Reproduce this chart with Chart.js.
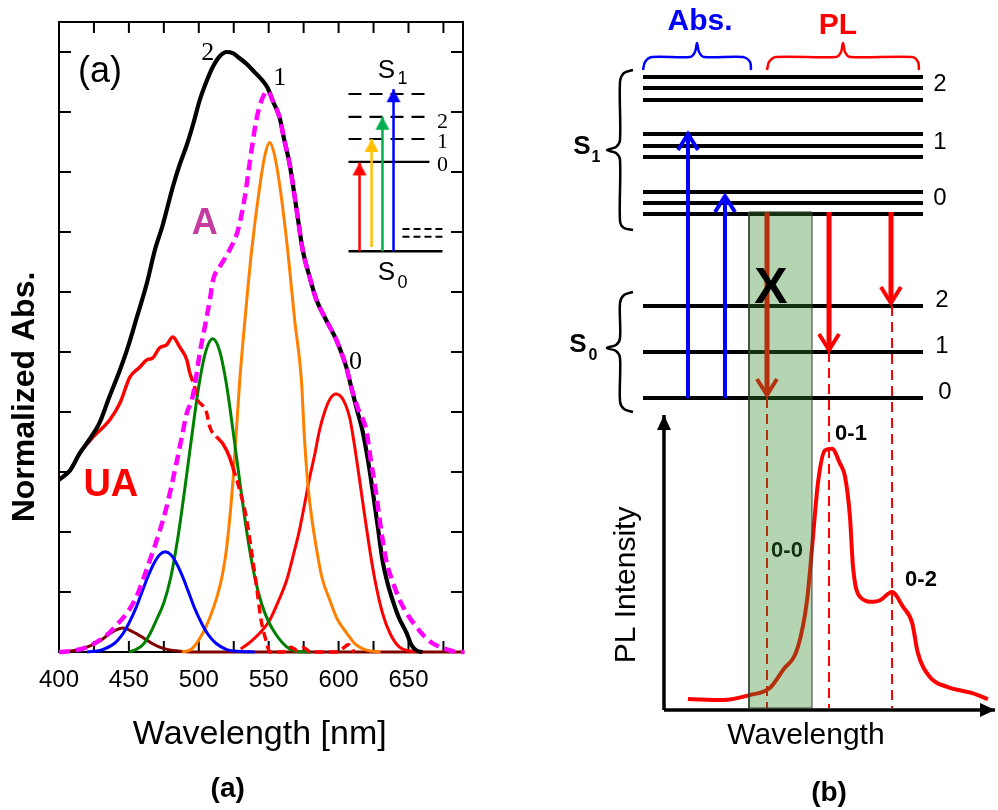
<!DOCTYPE html>
<html>
<head>
<meta charset="utf-8">
<title>Absorption and PL schematic</title>
<script src="https://cdn.jsdelivr.net/npm/chart.js@4.4.0/dist/chart.umd.min.js"></script>
<style>
  html, body { margin: 0; padding: 0; background: #fff; }
  #wrap { position: relative; width: 998px; height: 810px; }
  #chartA { position: absolute; left: 0; top: 0; }
  #chartB { position: absolute; left: 560px; top: 0; }
</style>
</head>
<body>
<div id="wrap">
  <canvas id="chartA" width="560" height="810"></canvas>
  <canvas id="chartB" width="438" height="810"></canvas>
</div>
<script>
// ---------- panel (a): absorption spectra, [wavelength nm, normalized abs] ----------
const xTickLabels = [400, 450, 500, 550, 600, 650];
const xTickMarks = [425, 450, 475, 500, 525, 550, 575, 600, 625, 650, 675];
const yTickMarks = [0.1, 0.2, 0.3, 0.4, 0.5, 0.6, 0.7, 0.8, 0.9, 1.0];

const totalAbs = [[400,0.287],[408,0.303],[415,0.332],[422,0.355],[429,0.382],[436,0.425],[443.6,0.47],
  [449.3,0.508],[455.7,0.558],[462.9,0.615],[468.6,0.67],[474,0.71],[481.4,0.775],[486,0.81],[491.4,0.845],
  [496,0.88],[500.7,0.92],[505,0.948],[510,0.975],[515,0.993],[520,1.0],[524.3,0.998],[529,0.99],
  [534.3,0.98],[540,0.966],[545,0.954],[549.3,0.94],[553,0.918],[557.9,0.89],[561,0.855],[565,0.813],
  [569.8,0.74],[574.5,0.668],[579.3,0.625],[584,0.588],[591.2,0.553],[598.4,0.52],[605.5,0.475],[609,0.442],
  [613,0.405],[617,0.37],[621,0.32],[624.3,0.27],[628,0.21],[631.4,0.153],[635,0.115],[638.6,0.087],
  [643,0.058],[648.6,0.032],[652,0.012],[656,0.002],[660,0]];

const aggregateA = [[400,0],[410,0.002],[420,0.008],[428,0.018],[436,0.032],[442,0.047],[448.6,0.065],
  [455,0.09],[460,0.12],[465,0.153],[470,0.187],[477,0.242],[484,0.315],[488,0.36],[491.4,0.398],[495,0.42],
  [497,0.442],[500.7,0.498],[504.3,0.542],[507.9,0.587],[510.2,0.62],[515,0.642],[522,0.67],[528,0.703],
  [532.9,0.758],[536.4,0.815],[541.2,0.887],[545,0.92],[549.3,0.935],[553,0.918],[557.9,0.89],[561,0.855],
  [565,0.813],[569.8,0.74],[574.5,0.668],[579.3,0.625],[584,0.588],[591.2,0.553],[598.4,0.52],[605.5,0.475],
  [609,0.442],[614,0.405],[619.8,0.37],[623,0.32],[626.5,0.27],[630,0.21],[634,0.153],[639,0.115],
  [643.6,0.087],[650,0.06],[655.7,0.042],[661,0.027],[667,0.015],[675,0.006],[686,0],[690,0]];

const unaggregatedUA = [[400,0.287],[408,0.303],[415,0.332],[424.3,0.358],[436.4,0.387],[443.6,0.415],
  [450.7,0.458],[457.9,0.475],[462.9,0.487],[467,0.49],[472,0.507],[477,0.512],[481.4,0.525],[486.4,0.508],
  [491.4,0.487],[493.6,0.465],[497,0.442],[499.3,0.42],[503,0.41],[505.7,0.398],[507.9,0.375],[512.9,0.358],
  [517,0.348],[522,0.325],[524.3,0.308],[529.3,0.27],[534.3,0.22],[537.9,0.165],[541.4,0.108],[544.6,0.053],
  [548.6,0.015],[550.7,0],[560,0],[566,0.008],[570,0.003],[575,0.007],[580,0],[598,0],[603,0.006],
  [607,0.012],[611,0]];

const band00 = [[530,0.005],[536,0.015],[543,0.03],[550.7,0.053],[557,0.085],[562.9,0.12],[568,0.165],
  [572,0.203],[576,0.25],[579,0.287],[583,0.33],[586.4,0.37],[590,0.4],[594,0.422],[598,0.43],[602,0.425],
  [605,0.412],[608,0.39],[611,0.35],[615,0.287],[618.5,0.23],[622,0.175],[626,0.12],[631.4,0.065],
  [637,0.03],[643.6,0.008],[650,0.002],[660,0]];

const band01 = [[488,0],[495,0.005],[503,0.032],[508,0.058],[513,0.092],[517,0.13],[520,0.175],[524.5,0.287],
  [529.3,0.453],[533,0.553],[537.6,0.665],[543.6,0.776],[547.5,0.83],[550.7,0.849],[554,0.83],[558,0.776],
  [563.8,0.665],[568.6,0.553],[573.4,0.453],[575.5,0.36],[578,0.28],[581,0.22],[584,0.175],[588,0.125],
  [593.6,0.087],[599,0.055],[605.7,0.032],[612,0.013],[620,0.003],[630,0]];

const band02 = [[450,0],[455,0.004],[460,0.012],[465,0.03],[470,0.055],[475,0.082],[480,0.125],[485,0.19],
  [490,0.272],[495,0.36],[500,0.443],[505,0.501],[510,0.522],[515,0.501],[520,0.443],[525,0.36],[530,0.272],
  [535,0.19],[540,0.125],[545,0.08],[550,0.05],[555,0.03],[560,0.015],[565,0.005],[570,0.001],[580,0]];

const band03 = [[420,0],[430,0.003],[440,0.015],[445,0.028],[450,0.048],[455,0.073],[460,0.104],[464,0.128],
  [468,0.148],[472,0.162],[476,0.167],[480,0.162],[484,0.148],[488,0.128],[492,0.104],[497,0.073],
  [502,0.048],[507,0.028],[512,0.015],[520,0.004],[530,0.001],[540,0]];

const band04 = [[400,0],[410,0.002],[420,0.008],[429,0.018],[436,0.03],[441,0.037],[445.7,0.04],[450,0.037],
  [455,0.031],[460,0.024],[466,0.015],[472,0.008],[478,0.004],[484,0.002],[495,0],[690,0]];

// inset level scheme (drawn in the same nm / abs units)
const insetSpan = [607.1, 665];
const insetVibLevels = [0.93, 0.892, 0.855];
const insetS1Zero = 0.817;
const insetS0 = [0.668, 607.1, 674.3];
const insetS0Vib = [0.705, 0.692];
const insetS0VibSpan = [645.7, 674.3];
const insetArrowX = [615, 623.6, 631.4, 639.3];
const insetArrowFrom = [0.668, 0.675, 0.668, 0.668];
const insetArrowTo = [0.816, 0.855, 0.892, 0.938];
const insetArrowColors = ['#ff0000', '#ffc000', '#00b050', '#0000ff'];

// ---------- panel (b): level diagram + PL spectrum (arbitrary units 0-100) ----------
const levelSpan = [18.95, 82.88];
const s1Levels = [90.49, 89.14, 87.65, 83.46, 81.98, 80.62, 76.30, 74.94, 73.58];
const s0Levels = [62.22, 56.54, 50.86];
const absArrows = [[29.22, 50.86, 83.46], [37.67, 50.86, 75.80]];          // x, from, to
const plArrows = [[47.26, 73.83, 51.23], [61.42, 73.83, 56.79], [75.57, 73.83, 62.59]];
const dropLines = [[47.26, 50.86], [61.42, 56.54], [75.8, 62.22]];          // x, top
const axisBase = 12.35, axisLeft = 23.74, axisRight = 99.32, axisTop = 48.77;
const bandX = [43.15, 57.53], bandY = [12.59, 73.83];

const plSpectrum = [[29.2,13.7],[37.2,13.58],[43.4,14.2],[47.9,15.06],[50.9,17.28],[54.3,20.1],[56.4,25.9],
  [57.5,32.1],[58.9,40.4],[60.5,44.4],[62.1,44.6],[63.9,42.8],[65.1,41.1],[66.2,36.2],[66.9,30],[68.5,26.3],
  [71.5,25.7],[73.1,25.9],[75.8,26.9],[78.3,25.1],[80.4,23.1],[81.7,19.4],[84.5,16.4],[88.4,15.2],
  [94.3,14.4],[97.7,13.7]];

const s1Brace = [[16.67,91.36],[14.61,90.99],[13.70,89.88],[13.70,82.72],[12.79,81.85],[10.73,81.48],
  [12.79,81.11],[13.70,80.25],[13.70,72.72],[14.61,71.85],[16.67,71.6]];
const s0Brace = [[16.67,63.95],[14.61,63.58],[13.70,62.59],[13.70,58.27],[12.79,57.41],[10.73,57.04],
  [12.79,56.67],[13.70,55.80],[13.70,50.49],[14.61,49.51],[16.67,49.14]];
const absBrace = [[18.95,91.36],[19.41,92.35],[21.0,92.96],[29.68,92.96],[30.82,93.58],[31.28,94.69],
  [31.74,93.58],[32.88,92.96],[41.78,92.96],[43.38,92.35],[43.61,91.36]];
const plBrace = [[47.26,91.36],[47.72,92.35],[49.32,92.96],[63.01,92.96],[64.16,93.58],[64.61,94.69],
  [65.07,93.58],[66.21,92.96],[80.37,92.96],[81.74,92.35],[81.96,91.36]];

const SANS = '"Liberation Sans", Arial, sans-serif';
const SERIF = '"Liberation Serif", "Times New Roman", serif';

// helpers
const pts = arr => arr.map(([x, y]) => ({ x, y }));

// arrow head image, tip sits at the image centre so it lands on the data point
function makeHead(color, w, h, filled, lw) {
  const pad = lw || 2;
  const c = document.createElement('canvas');
  c.width = Math.ceil(w + pad * 2);
  c.height = Math.ceil((h + pad) * 2);
  const g = c.getContext('2d');
  const cx = c.width / 2, cy = c.height / 2;
  g.beginPath();
  g.moveTo(cx - w / 2, cy + h);
  g.lineTo(cx, cy);
  g.lineTo(cx + w / 2, cy + h);
  if (filled) {
    g.closePath();
    g.fillStyle = color;
    g.fill();
  } else {
    g.strokeStyle = color;
    g.lineWidth = lw;
    g.lineJoin = 'miter';
    g.stroke();
  }
  return c;
}

function curve(data, color, width, extra) {
  return Object.assign({
    data: pts(data), showLine: true, borderColor: color, borderWidth: width,
    pointRadius: 0, cubicInterpolationMode: 'monotone', fill: false, clip: false
  }, extra || {});
}

function segment(x0, y0, x1, y1, color, width, extra) {
  return Object.assign({
    data: [{ x: x0, y: y0 }, { x: x1, y: y1 }], showLine: true, borderColor: color,
    borderWidth: width, pointRadius: 0, fill: false, clip: false, borderCapStyle: 'butt'
  }, extra || {});
}

function arrow(x, y0, y1, color, width, head, rot) {
  return segment(x, y0, x, y1, color, width, {
    pointRadius: [0, 6], pointStyle: head, pointRotation: rot || 0
  });
}

function textPlugin(items) {
  const draw = (chart, list) => {
    const { ctx, scales: { x, y } } = chart;
    list.forEach(it => {
      ctx.save();
      ctx.translate(x.getPixelForValue(it.x), y.getPixelForValue(it.y));
      if (it.rot) ctx.rotate(it.rot * Math.PI / 180);
      ctx.font = it.font;
      ctx.fillStyle = it.color || '#000';
      ctx.textAlign = 'center';
      ctx.textBaseline = 'middle';
      ctx.fillText(it.t, 0, 0);
      ctx.restore();
    });
  };
  return {
    id: 'textLabels',
    beforeDatasetsDraw(chart) { draw(chart, items.filter(i => i.under)); },
    afterDatasetsDraw(chart) { draw(chart, items.filter(i => !i.under)); }
  };
}

// frame with inward ticks on all four sides
const framePlugin = {
  id: 'frame',
  beforeDatasetsDraw(chart) {
    const { ctx, chartArea: a, scales: { x, y } } = chart;
    ctx.save();
    ctx.strokeStyle = '#000';
    ctx.lineWidth = 2;
    ctx.strokeRect(a.left, a.top, a.right - a.left, a.bottom - a.top);
    ctx.beginPath();
    xTickMarks.forEach(v => {
      const px = x.getPixelForValue(v);
      ctx.moveTo(px, a.bottom); ctx.lineTo(px, a.bottom - 11);
      ctx.moveTo(px, a.top); ctx.lineTo(px, a.top + 11);
    });
    yTickMarks.forEach(v => {
      const py = y.getPixelForValue(v);
      ctx.moveTo(a.left, py); ctx.lineTo(a.left + 12, py);
      ctx.moveTo(a.right, py); ctx.lineTo(a.right - 12, py);
    });
    ctx.stroke();
    ctx.restore();
  }
};

// ---------- chart (a) ----------
const insetSets = [];
insetArrowX.forEach((x, i) => {
  insetSets.push(arrow(x, insetArrowFrom[i], insetArrowTo[i], insetArrowColors[i], 2.5,
    makeHead(insetArrowColors[i], 14, 13, true)));
});
insetVibLevels.forEach(v => insetSets.push(segment(insetSpan[0], v, insetSpan[1], v, '#000', 2.2, { borderDash: [13, 8] })));
insetSets.push(segment(insetSpan[0], insetS1Zero, insetSpan[1], insetS1Zero, '#000', 2.2));
insetSets.push(segment(insetS0[1], insetS0[0], insetS0[2], insetS0[0], '#000', 2.5));
insetS0Vib.forEach(v => insetSets.push(segment(insetS0VibSpan[0], v, insetS0VibSpan[1], v, '#000', 2, { borderDash: [7, 4] })));

const uaDashed = ctx => {
  const x = ctx.p0.parsed.x;
  return (x >= 493 && x < 508) || x >= 524 ? [9, 5] : undefined;
};

const labelsA = [
  { t: '(a)', x: 429.3, y: 0.967, font: '36px ' + SANS },
  { t: '2', x: 506.4, y: 0.998, font: '26px ' + SERIF },
  { t: '1', x: 557.9, y: 0.957, font: '26px ' + SERIF },
  { t: '0', x: 612.1, y: 0.483, font: '26px ' + SERIF },
  { t: 'A', x: 504.3, y: 0.713, font: 'bold 36px ' + SANS, color: '#c43ca0' },
  { t: 'UA', x: 437.1, y: 0.278, font: 'bold 38px ' + SANS, color: '#ff0000' },
  { t: 'S', x: 634.3, y: 0.968, font: '26px ' + SANS },
  { t: '1', x: 645.7, y: 0.955, font: '18px ' + SANS },
  { t: 'S', x: 634.3, y: 0.632, font: '26px ' + SANS },
  { t: '0', x: 645.7, y: 0.615, font: '18px ' + SANS },
  { t: '2', x: 674.3, y: 0.883, font: '22px ' + SERIF },
  { t: '1', x: 674.3, y: 0.85, font: '22px ' + SERIF },
  { t: '0', x: 674.3, y: 0.812, font: '22px ' + SERIF },
  { t: 'Normalized Abs.', x: 375.7, y: 0.425, font: 'bold 32px ' + SANS, rot: -90 },
  { t: 'Wavelength [nm]', x: 543.6, y: -0.137, font: '34px ' + SANS },
  { t: '(a)', x: 520.7, y: -0.228, font: 'bold 28px ' + SANS }
];

new Chart(document.getElementById('chartA'), {
  type: 'scatter',
  data: {
    datasets: insetSets.concat([
      curve(aggregateA, '#ff00ff', 4.5, { borderDash: [11, 6] }),
      curve(totalAbs, '#000000', 4.2),
      curve(unaggregatedUA, '#ff0000', 3.5, { segment: { borderDash: uaDashed } }),
      curve(band03, '#0000ff', 3),
      curve(band02, '#008000', 3),
      curve(band01, '#ff8000', 3),
      curve(band00, '#ff0000', 3),
      curve(band04, '#800000', 3)
    ])
  },
  options: {
    responsive: false,
    animation: false,
    events: [],
    layout: { autoPadding: false, padding: { left: 59, top: 22, right: 97, bottom: 0 } },
    plugins: { legend: { display: false }, tooltip: { enabled: false } },
    scales: {
      x: {
        type: 'linear', min: 400, max: 689,
        grid: { display: false, drawTicks: false },
        border: { display: false },
        afterBuildTicks: s => { s.ticks = xTickLabels.map(v => ({ value: v })); },
        afterFit: s => { s.height = 158; },
        ticks: { color: '#000', padding: 14, font: { family: SANS, size: 24 }, maxRotation: 0 }
      },
      y: { type: 'linear', min: 0, max: 1.05, display: false }
    }
  },
  plugins: [framePlugin, textPlugin(labelsA)]
});

// ---------- chart (b) ----------
const blueHead = makeHead('#0000ff', 20, 16, false, 4);
const redHead = makeHead('#ff0000', 20, 16, false, 4);
const axisHead = makeHead('#000000', 14, 15, true);

const setsB = [];
// translucent band on top of everything
setsB.push({
  data: pts([[bandX[0], bandY[0]], [bandX[1], bandY[0]], [bandX[1], bandY[1]], [bandX[0], bandY[1]], [bandX[0], bandY[0]]]),
  showLine: true, tension: 0, pointRadius: 0, clip: false,
  borderColor: '#2f3f2f', borderWidth: 1, fill: 'shape', backgroundColor: 'rgba(50,135,40,0.36)'
});
setsB.push(curve(plSpectrum, '#ff0000', 4));
dropLines.forEach(([x, top]) => setsB.push(segment(x, top, x, bandY[0], '#ff0000', 2, { borderDash: [10, 6] })));
plArrows.forEach(([x, a, b]) => setsB.push(arrow(x, a, b, '#ff0000', 5, redHead, 180)));
absArrows.forEach(([x, a, b]) => setsB.push(arrow(x, a, b, '#0000ff', 4, blueHead, 0)));
s1Levels.concat(s0Levels).forEach(v => setsB.push(segment(levelSpan[0], v, levelSpan[1], v, '#000', 4)));
[s1Brace, s0Brace].forEach(b => setsB.push(curve(b, '#000', 2.5, { cubicInterpolationMode: 'default', tension: 0.3 })));
setsB.push(curve(absBrace, '#0000ff', 2.5, { cubicInterpolationMode: 'default', tension: 0.3 }));
setsB.push(curve(plBrace, '#ff0000', 2.5, { cubicInterpolationMode: 'default', tension: 0.3 }));
setsB.push(segment(axisLeft, axisBase, axisRight, axisBase, '#000', 3.5, { pointRadius: [0, 6], pointStyle: axisHead, pointRotation: 90 }));
setsB.push(segment(axisLeft, axisBase, axisLeft, axisTop, '#000', 3.5, { pointRadius: [0, 6], pointStyle: axisHead, pointRotation: 0 }));

const labelsB = [
  { t: 'Abs.', x: 31.96, y: 97.28, font: 'bold 30px ' + SANS, color: '#0000ff' },
  { t: 'PL', x: 63.47, y: 96.79, font: 'bold 30px ' + SANS, color: '#ff0000' },
  { t: 'S', x: 5.02, y: 81.85, font: 'bold 26px ' + SANS },
  { t: '1', x: 8.22, y: 80.49, font: 'bold 16px ' + SANS },
  { t: 'S', x: 4.11, y: 57.4, font: 'bold 26px ' + SANS },
  { t: '0', x: 7.53, y: 56.05, font: 'bold 16px ' + SANS },
  { t: '2', x: 86.76, y: 89.63, font: '24px ' + SANS },
  { t: '1', x: 86.76, y: 82.47, font: '24px ' + SANS },
  { t: '0', x: 86.76, y: 75.56, font: '24px ' + SANS },
  { t: '2', x: 87.21, y: 62.96, font: '24px ' + SANS },
  { t: '1', x: 87.21, y: 57.28, font: '24px ' + SANS },
  { t: '0', x: 87.9, y: 51.6, font: '24px ' + SANS },
  { t: 'X', x: 48.17, y: 64.32, font: 'bold 50px ' + SANS },
  { t: '0-1', x: 66.44, y: 46.42, font: 'bold 22px ' + SANS },
  { t: '0-0', x: 51.83, y: 31.98, font: 'bold 22px ' + SANS, under: true },
  { t: '0-2', x: 82.42, y: 28.4, font: 'bold 22px ' + SANS },
  { t: 'PL Intensity', x: 15.3, y: 27.78, font: '30px ' + SANS, rot: -90 },
  { t: 'Wavelength', x: 56.16, y: 9.14, font: '30px ' + SANS },
  { t: '(b)', x: 61.42, y: 2.1, font: 'bold 28px ' + SANS }
];

new Chart(document.getElementById('chartB'), {
  type: 'scatter',
  data: { datasets: setsB },
  options: {
    responsive: false,
    animation: false,
    events: [],
    layout: { autoPadding: false, padding: 0 },
    plugins: { legend: { display: false }, tooltip: { enabled: false } },
    scales: {
      x: { type: 'linear', min: 0, max: 100, display: false },
      y: { type: 'linear', min: 0, max: 100, display: false }
    }
  },
  plugins: [textPlugin(labelsB)]
});
</script>
</body>
</html>
